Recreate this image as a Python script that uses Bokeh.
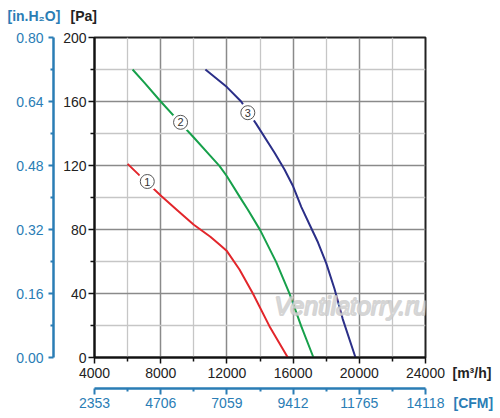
from bokeh.plotting import figure
from bokeh.layouts import column, row
from bokeh.models import Range1d, LinearAxis, FixedTicker, NumeralTickFormatter, Label, ColumnDataSource
from bokeh.embed import file_html
from bokeh.resources import INLINE
from bokeh.core.properties import value

# ---- data ----
flow_1 = [6000, 7000, 8050, 9000, 10000, 11000, 11550, 12000, 12760, 13570, 14570, 15680]
pres_1 = [121, 111, 100.8, 92, 83, 75.5, 70.6, 66.5, 55, 40, 19.6, 0]
flow_2 = [6300, 7000, 8000, 9000, 10040, 11000, 11560, 12000, 12860, 13260, 14010, 14980, 15790, 16490, 17230]
pres_2 = [180, 172, 160, 148.7, 137, 126, 119.6, 113.3, 99, 92.5, 79.6, 59.6, 39.8, 19.6, 0]
flow_3 = [10700, 12000, 12860, 13770, 14880, 15480, 16000, 16500, 17000, 17500, 18000, 18500, 19000, 19770]
pres_3 = [180, 169, 160, 146, 128, 117.5, 107, 94, 83, 72, 59, 43, 24, 0]

curve_colors = ["#e2262b", "#17a04b", "#2b2f88"]
curve_labels = ["1", "2", "3"]
label_x = [7190, 9200, 13263]
label_y = [110, 147, 153]

x_ticks = [4000, 8000, 12000, 16000, 20000, 24000]
x_minor = [6000, 10000, 14000, 18000, 22000]
pa_ticks = [0, 40, 80, 120, 160, 200]
pa_minor = [20, 60, 100, 140, 180]
inh2o_ticks = [0.0, 0.16, 0.32, 0.48, 0.64, 0.80]
inh2o_minor = [0.08, 0.24, 0.40, 0.56, 0.72]
cfm_ticks = [2353, 4706, 7059, 9412, 11765, 14118]
cfm_minor = [3529.5, 5882.5, 8235.5, 10588.5, 12941.5]

unit_pa = "[Pa]"
unit_inh2o = "[in.H\u2082O]"
unit_flow = "[m\u00b3/h]"
unit_cfm = "[CFM]"
watermark = "Ventilatorry.ru"

BLUE = "#2a7db5"
DARK = "#222222"
FONT = "Liberation Sans"

TOP_H = 28
MAIN_W, MAIN_H = 450, 384
SIDE_W = 48


def text_fig(w, h):
    f = figure(width=w, height=h, x_range=Range1d(0, w), y_range=Range1d(h, 0),
               x_axis_type=None, y_axis_type=None, min_border=0,
               output_backend="svg", toolbar_location=None)
    f.outline_line_color = None
    f.background_fill_color = "white"
    f.border_fill_color = "white"
    if "frame_align" in f.properties():
        f.frame_align = False
    return f


# ---- main chart ----
p = figure(width=MAIN_W, height=MAIN_H, min_border_left=94, min_border_top=9,
           min_border_right=25, min_border_bottom=55,
           x_range=Range1d(x_ticks[0], x_ticks[-1]), y_range=Range1d(pa_ticks[0], pa_ticks[-1]),
           output_backend="svg", toolbar_location=None)
p.background_fill_color = "white"
p.border_fill_color = "white"
p.outline_line_color = "#222222"
p.outline_line_width = 2

p.extra_y_ranges = {"inh2o": Range1d(inh2o_ticks[0], inh2o_ticks[-1])}
p.extra_x_ranges = {"cfm": Range1d(cfm_ticks[0], cfm_ticks[-1])}

xa = p.xaxis[0]
xa.ticker = FixedTicker(ticks=x_ticks, minor_ticks=x_minor)
ya = p.yaxis[0]
ya.ticker = FixedTicker(ticks=pa_ticks, minor_ticks=pa_minor)
for ax in (xa, ya):
    ax.axis_line_color = "#111111"
    ax.axis_line_width = 2
    ax.major_tick_line_color = "#111111"
    ax.minor_tick_line_color = "#111111"
    ax.major_tick_line_width = 1.5
    ax.minor_tick_line_width = 1.5
    ax.major_tick_in = 0
    ax.minor_tick_in = 0
    ax.major_tick_out = 6
    ax.minor_tick_out = 4
    ax.major_label_text_font = FONT
    ax.major_label_text_font_size = "14px"
    ax.major_label_text_color = DARK
    ax.axis_label = " "
    ax.axis_label_standoff = 0
ya.major_label_standoff = 2
ya.axis_label_text_font_size = "3px"
xa.major_label_standoff = 4
xa.axis_label_text_font_size = "4px"

for g in (p.xgrid[0], p.ygrid[0]):
    g.grid_line_color = "#8a8a8a"
    g.grid_line_width = 1.5
    g.minor_grid_line_color = "#c6c6c6"
    g.minor_grid_line_width = 1.3

inh2o_axis = LinearAxis(y_range_name="inh2o",
                        ticker=FixedTicker(ticks=inh2o_ticks, minor_ticks=inh2o_minor),
                        formatter=NumeralTickFormatter(format="0.00"))
cfm_axis = LinearAxis(x_range_name="cfm",
                      ticker=FixedTicker(ticks=cfm_ticks, minor_ticks=cfm_minor))
for ax in (inh2o_axis, cfm_axis):
    ax.axis_line_color = BLUE
    ax.axis_line_width = 2.5
    ax.major_tick_line_color = BLUE
    ax.minor_tick_line_color = BLUE
    ax.major_tick_line_width = 2
    ax.minor_tick_line_width = 2
    ax.major_tick_in = 0
    ax.minor_tick_in = 0
    ax.minor_tick_out = 3
    ax.major_label_text_font = FONT
    ax.major_label_text_font_size = "14px"
    ax.major_label_text_color = BLUE
inh2o_axis.major_tick_out = 5
inh2o_axis.major_label_standoff = 5
cfm_axis.major_tick_out = 6
cfm_axis.major_label_standoff = 3
p.add_layout(inh2o_axis, "left")
p.add_layout(cfm_axis, "below")

p.add_layout(Label(x=19500, y=32, text=watermark, text_align="center", text_baseline="middle",
                   text_font=FONT, text_font_style="italic", text_font_size="25px",
                   text_color="white", text_alpha=0.7, text_outline_color="#c2c2c2"))

for fx, py, c in ((flow_1, pres_1, curve_colors[0]), (flow_2, pres_2, curve_colors[1]),
                  (flow_3, pres_3, curve_colors[2])):
    p.line(fx, py, line_color=c, line_width=2, line_join="round")

src = ColumnDataSource(dict(x=label_x, y=label_y, t=curve_labels))
p.scatter("x", "y", source=src, size=20, fill_color="white", line_color=None)
p.scatter("x", "y", source=src, size=14, fill_color="white", line_color="#555555", line_width=1)
p.text("x", "y", text="t", source=src, text_align="center", text_baseline="middle",
       text_font=value(FONT), text_font_size="11px", text_color="#333333")

# ---- unit captions outside the plot frame ----
top = text_fig(MAIN_W + SIDE_W, TOP_H)
top.add_layout(Label(x=7, y=15, text=unit_inh2o, text_align="left", text_baseline="middle",
                     text_font=FONT, text_font_style="bold", text_font_size="14px", text_color=BLUE))
top.add_layout(Label(x=70, y=15, text=unit_pa, text_align="left", text_baseline="middle",
                     text_font=FONT, text_font_style="bold", text_font_size="14px", text_color=DARK))

side = text_fig(SIDE_W, MAIN_H)
side.add_layout(Label(x=2, y=372 - TOP_H, text=unit_flow, text_align="left", text_baseline="middle",
                      text_font=FONT, text_font_style="bold", text_font_size="14px", text_color=DARK))
side.add_layout(Label(x=3, y=402 - TOP_H, text=unit_cfm, text_align="left", text_baseline="middle",
                      text_font=FONT, text_font_style="bold", text_font_size="14px", text_color=BLUE))

layout = column(top, row(p, side))
open("out.html", "w").write(file_html(layout, INLINE))
